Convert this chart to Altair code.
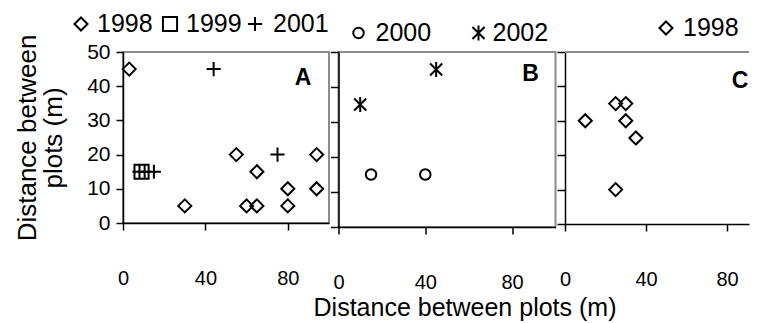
import altair as alt
import pandas as pd

# ---------------- data ----------------
# Panel A
a98_x = [3, 30, 55, 60, 65, 65, 80, 80, 94, 94]
a98_y = [45, 5, 20, 5, 5, 15, 10, 5, 20, 10]
a99_x = [9]
a99_y = [15]
a01_x = [8, 10.5, 15, 44, 75]
a01_y = [15, 15, 15, 45, 20]
# Panel B
b00_x = [15, 40]
b00_y = [15, 15]
b02_x = [10, 45]
b02_y = [35, 45]
# Panel C
c98_x = [10, 25, 30, 30, 35, 25]
c98_y = [30, 35, 35, 30, 25, 10]

x_ticks = [0, 40, 80]
y_ticks = [0, 10, 20, 30, 40, 50]
panel_labels = ["A", "B", "C"]
y_title = ["Distance between", "plots (m)"]
x_title = "Distance between plots (m)"

FONT = "Liberation Sans"
PLUS = "M-1,0H1M0,-1V1"
STAR = "M0,-1V1M-0.8,-0.8L0.8,0.8M-0.8,0.8L0.8,-0.8"
SHAPES = {
    "1998": ("diamond", 170),
    "1999": ("square", 200),
    "2001": (PLUS, 200),
    "2000": ("circle", 110),
    "2002": (STAR, 230),
}
BORDER = "#8c8c8c"


def df(xs, ys):
    return pd.DataFrame({"x": xs, "y": ys})


def panel(series, width, height, xmax, label, label_pos, legend, yaxis_labels,
          xtitle=None, open_right=False):
    xs = alt.Scale(domain=[0, xmax], nice=False, zero=False)
    ys = alt.Scale(domain=[0, 50], nice=False)
    xaxis_kw = dict(values=x_ticks, tickSize=7, tickColor="black", tickWidth=1.5,
                    domainColor="black", domainWidth=1.5, labelFontSize=20,
                    labelColor="black", labelPadding=38, grid=False, labelFlush=False,
                    title=None)
    if xtitle:
        xaxis_kw.update(title=xtitle, titleFontSize=25, titleFontWeight="normal",
                        titleColor="black", titleX=126, titleY=88, titleAlign="center",
                        titleBaseline="alphabetic", titleAnchor="start")
    xaxis = alt.Axis(**xaxis_kw)
    if yaxis_labels:
        yaxis = alt.Axis(values=y_ticks, tickSize=7, tickColor="black", tickWidth=1.5,
                         domainColor="black", domainWidth=1.5, labelFontSize=21,
                         labelColor="black", labelPadding=6, grid=False,
                         title=y_title, titleFontSize=26, titleFontWeight="normal",
                         titleColor="black", titlePadding=20, titleLineHeight=26)
    else:
        yaxis = alt.Axis(values=y_ticks, tickSize=8, tickColor="black", tickWidth=1.5,
                         domainColor="black", domainWidth=1.5, labels=False, grid=False,
                         title=None)
    layers = []
    if open_right:
        # top border only (panel runs off the right edge)
        layers.append(alt.Chart(df([0], [0])).mark_rule(color=BORDER, strokeWidth=2)
                      .encode(x=alt.value(0), x2=alt.value(width), y=alt.value(0)))
    for name, xs_, ys_ in series:
        shape, size = SHAPES[name]
        layers.append(
            alt.Chart(df(xs_, ys_)).mark_point(shape=shape, size=size, filled=False,
                                               stroke="black", strokeWidth=2, opacity=1)
            .encode(x=alt.X("x:Q", scale=xs, axis=xaxis),
                    y=alt.Y("y:Q", scale=ys, axis=yaxis)))
    # legend entries (symbol + text) above the panel
    for name, sx, tx, ly in legend:
        shape, size = SHAPES[name]
        layers.append(alt.Chart(df([0], [0])).mark_point(
            shape=shape, size=size, filled=False, stroke="black", strokeWidth=2, opacity=1)
            .encode(x=alt.value(sx), y=alt.value(ly)))
        layers.append(alt.Chart(df([0], [0])).mark_text(
            text=name, align="left", baseline="middle", fontSize=25, font=FONT, color="black")
            .encode(x=alt.value(tx), y=alt.value(ly)))
    layers.append(alt.Chart(df([0], [0])).mark_text(
        text=label, align="center", baseline="middle", fontSize=23, fontWeight="bold",
        font=FONT, color="black").encode(x=alt.value(label_pos[0]), y=alt.value(label_pos[1])))
    ch = alt.layer(*layers).properties(width=width, height=height)
    if open_right:
        ch = ch.properties(view=alt.ViewBackground(stroke=None, strokeWidth=0))
    return ch


A = panel([("1998", a98_x, a98_y), ("1999", a99_x, a99_y), ("2001", a01_x, a01_y)],
          206, 171, 100, panel_labels[0], (180, 26),
          [("1998", -42, -26, -28), ("1999", 47, 63, -28), ("2001", 132, 150, -28)], True)
B = panel([("2000", b00_x, b00_y), ("2002", b02_x, b02_y)],
          217, 175, 100, panel_labels[1], (192, 22),
          [("2000", 20, 37, -19), ("2002", 140, 154, -19)], False, xtitle=x_title)
C = panel([("1998", c98_x, c98_y)],
          184, 172, 90.85, panel_labels[2], (175, 29),
          [("1998", 101, 118, -24)], False, open_right=True)

chart = alt.hconcat(A, B, C, spacing=9.5, bounds="flush").configure(
    font=FONT, padding={"left": 5, "top": 3, "right": 0, "bottom": 0}
).configure_view(stroke=BORDER, strokeWidth=2)

chart.save("out.html", embed_options={"renderer": "svg", "actions": False})
